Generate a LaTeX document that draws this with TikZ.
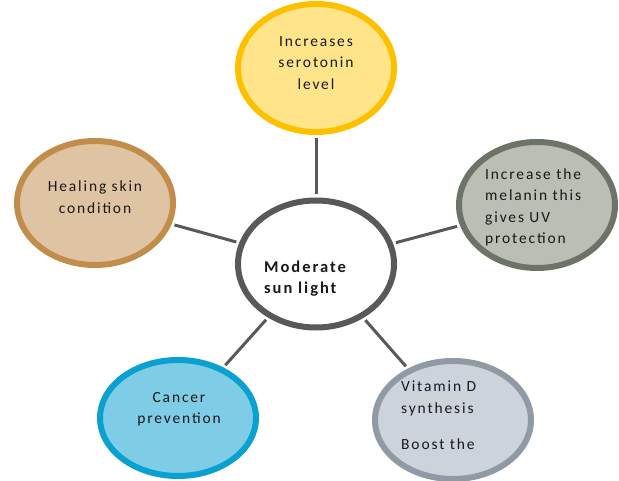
\documentclass[tikz,border=0pt]{standalone}
\usepackage{fontspec}
\usetikzlibrary{shapes.geometric}
\newfontfamily\lblfont{Carlito}[LetterSpace=12]
\definecolor{linegray}{HTML}{595959}
\definecolor{sunBorder}{HTML}{FFC000}
\definecolor{sunFill}{HTML}{FFE48A}
\definecolor{melBorder}{HTML}{6C7367}
\definecolor{melFill}{HTML}{BABEB5}
\definecolor{skinBorder}{HTML}{C28C4A}
\definecolor{skinFill}{HTML}{DFC4A3}
\definecolor{cancBorder}{HTML}{0AA0D0}
\definecolor{cancFill}{HTML}{7ECCE6}
\definecolor{vitBorder}{HTML}{8F9AA5}
\definecolor{vitFill}{HTML}{CDD3DB}
\tikzset{
  bubble/.style={ellipse, draw, line width=6pt, inner sep=0pt,
    minimum width=156pt, minimum height=124pt},
  label/.style={font=\lblfont\fontsize{15.5}{21.5}\selectfont, inner sep=0pt, text=black!90},
  connector/.style={draw=linegray, line width=3pt, shorten <=3pt, shorten >=3pt}
}
\begin{document}
\begin{tikzpicture}[x=1pt,y=-1pt]
  \useasboundingbox (0,0) rectangle (619,481);
  % bubbles
  \node[bubble, draw=linegray, fill=white, minimum height=127pt] (hub) at (316,264) {};
  \node[bubble, draw=sunBorder, fill=sunFill, minimum height=128pt] (sero) at (316,68) {};
  \node[bubble, draw=melBorder, fill=melFill, minimum height=126pt] (mel) at (537,205) {};
  \node[bubble, draw=skinBorder, fill=skinFill, minimum height=124pt] (skin) at (95,203) {};
  \node[bubble, draw=cancBorder, fill=cancFill, minimum height=116pt] (canc) at (178,418) {};
  \node[bubble, draw=vitBorder, fill=vitFill, minimum height=118pt] (vit) at (453,420) {};
  % spokes
  \draw[connector] (hub) -- (sero);
  \draw[connector] (hub) -- (mel);
  \draw[connector] (hub) -- (skin);
  \draw[connector] (hub) -- (canc);
  \draw[connector] (hub) -- (vit);
  % texts
  \node[label, align=center] (tsero) at (316,63) {Increases\\serotonin\\level};
  \node[label, align=center] (tskin) at (95,197) {Healing skin\\condition};
  \node[label, align=left, anchor=west] (tmel) at (485,207.5) {Increase the\\melanin this\\gives UV\\protection};
  \node[label, align=left, anchor=west, font=\lblfont\bfseries\fontsize{16.5}{21.5}\selectfont] (thub) at (264,278.5) {Moderate\\sun light};
  \node[label, align=center] (tcanc) at (179,409) {Cancer\\prevention};
  \node[label, align=left, anchor=west] (tvit) at (401,415) {Vitamin D\\synthesis\\[14.5pt]Boost the};
\end{tikzpicture}
\end{document}
